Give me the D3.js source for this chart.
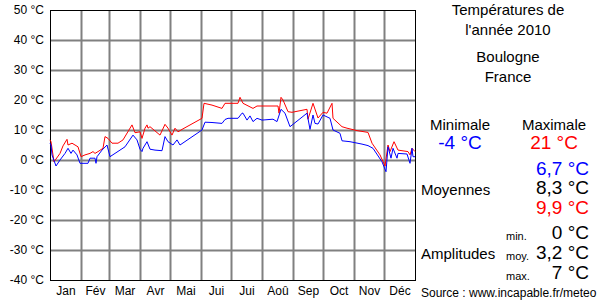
<!DOCTYPE html>
<head>
    <meta charset="utf-8">
    <title>Températures 2010 Boulogne</title>
    <script src="https://d3js.org/d3.v7.min.js"></script>
    <style>
        body { margin: 0; background: #fff; }
        svg { display: block; font-family: "Liberation Sans", Arial, sans-serif; }
    </style>
</head>

<body>
    <script>

// jours de l'annee (0 = 1er janvier) et temperatures
const joursMax = [0, 1, 4, 10, 13, 17, 18, 22, 25, 28, 31, 35, 40, 43, 45, 48, 53, 55, 58, 62, 68, 73, 82, 85, 90, 92, 95, 97, 98, 100,
    110, 115, 118, 122, 125, 128, 132, 152, 154, 162, 172, 175, 188, 190, 193, 203, 207, 228, 229, 231, 233, 238, 242,
    257, 258, 263, 268, 273, 277, 282, 283, 292, 297, 307, 318, 322, 330, 335, 338, 340, 344, 348, 358, 360, 362, 365]
const tMax = [6.7, 6.1, -0.6, 2.2, 4.7, 6.9, 5.0, 5.6, 5.0, 4.4, 1.1, 1.7, 2.2, 2.8, 2.2, 2.8, 3.9, 7.8, 7.2, 5.6, 5.6, 6.7, 11.7, 9.1, 9.4, 7.2, 10.6, 11.7, 10.6, 11.1,
    8.3, 11.9, 10.6, 8.3, 10.6, 9.4, 10.2, 13.9, 18.9, 18.3, 17.2, 18.9, 18.9, 20.9, 18.9, 17.2, 18.0, 18.0, 15.6, 20.9, 20.0, 16.1, 15.9,
    16.9, 13.6, 18.9, 14.0, 15.9, 15.6, 18.9, 13.9, 11.1, 10.6, 9.8, 9.2, 5.6, 1.7, -2.0, 5.0, 2.8, 6.1, 3.3, 2.8, 1.7, 3.9, 2.8]

const joursMin = [0, 1, 2, 6, 10, 15, 18, 21, 23, 27, 30, 38, 40, 45, 46, 47, 52, 57, 60, 65, 75, 83, 87, 90, 92, 93, 97, 100, 105, 112,
    115, 118, 123, 127, 130, 152, 155, 162, 172, 175, 178, 188, 192, 193, 197, 200, 203, 207, 212, 223, 227, 231, 235, 240,
    257, 260, 263, 265, 268, 273, 280, 283, 290, 292, 300, 312, 318, 323, 332, 336, 338, 341, 343, 347, 348, 357, 360, 362, 363, 365]
const tMin = [5.6, 5.0, 1.7, -2.0, 0.0, 2.2, 3.9, 2.2, 3.3, 1.7, -1.1, -1.1, 0.6, 0.6, -1.1, 1.1, 3.3, 5.0, 1.1, 2.2, 4.4, 8.3, 6.7, 3.6, 2.8, 3.9, 6.1, 3.6, 3.3, 3.1,
    7.8, 6.1, 5.0, 6.7, 5.0, 10.0, 12.6, 12.5, 12.2, 13.5, 13.9, 13.9, 15.6, 15.6, 13.3, 14.7, 12.8, 13.9, 13.3, 13.6, 12.8, 16.9, 15.6, 11.1,
    15.6, 10.2, 15.0, 12.2, 12.0, 15.0, 13.9, 10.0, 8.9, 6.4, 6.1, 5.3, 4.8, 3.9, -0.6, -3.9, 4.4, 0.6, 3.9, 0.6, 2.2, 2.0, -1.1, 3.9, 1.1, 1.1]

const debutsMois = [0, 31, 59, 90, 120, 151, 181, 212, 243, 273, 304, 334, 365]
const mois = ["Jan", "Fév", "Mar", "Avr", "Mai", "Jui", "Jui", "Aoû", "Sep", "Oct", "Nov", "Déc"]
const graduations = [-40, -30, -20, -10, 0, 10, 20, 30, 40, 50]

const titre = ["Températures de", "l'année 2010"]
const lieu = ["Boulogne", "France"]
const extremes = ["-4 °C", "21 °C"]
const moyennes = ["6,7 °C", "8,3 °C", "9,9 °C"]
const amplitudes = ["0 °C", "3,2 °C", "7 °C"]
const ampLabels = ["min.", "moy.", "max."]

const w = 600
const h = 300
const gauche = 50, droite = 415, haut = 10, bas = 280

const xScale = d3.scaleLinear().domain([0, 365]).range([gauche, droite])
const yScale = d3.scaleLinear().domain([-40, 50]).range([bas, haut])

const svg = d3.select("body")
    .append("svg")
    .attr("width", w)
    .attr("height", h)

svg.append("rect").attr("width", w).attr("height", h).attr("fill", "#fff")

// grille verticale (debut de chaque mois)
svg.append("g")
    .attr("class", "grid")
    .attr("transform", "translate(0," + bas + ")")
    .call(d3.axisBottom(xScale).tickValues(debutsMois.slice(1, -1)).tickSize(-(bas - haut)).tickFormat(""))

// grille horizontale
svg.append("g")
    .attr("class", "grid")
    .attr("transform", "translate(" + gauche + ",0)")
    .call(d3.axisLeft(yScale).tickValues(graduations.slice(1, -1)).tickSize(-(droite - gauche)).tickFormat(""))

svg.selectAll(".grid .domain").remove()
svg.selectAll(".grid line").attr("stroke", "#808080").attr("stroke-width", 2)

// cadre
svg.append("rect")
    .attr("x", gauche + 0.5).attr("y", haut + 0.5)
    .attr("width", droite - gauche).attr("height", bas - haut)
    .attr("fill", "none").attr("stroke", "#000")

// axe y
const yAxe = svg.append("g")
    .attr("transform", "translate(" + gauche + ",0)")
    .call(d3.axisLeft(yScale).tickValues(graduations).tickSize(0).tickPadding(6).tickFormat(d => d + " °C"))
yAxe.select(".domain").remove()
yAxe.selectAll("text").attr("font-size", 12).attr("font-family", "Liberation Sans, Arial, sans-serif").attr("fill", "#000")

// mois
const milieux = mois.map((m, i) => (debutsMois[i] + debutsMois[i + 1]) / 2)
const xAxe = svg.append("g")
    .attr("transform", "translate(0," + bas + ")")
    .call(d3.axisBottom(xScale).tickValues(milieux).tickSize(0).tickPadding(6).tickFormat((d, i) => mois[i]))
xAxe.select(".domain").remove()
xAxe.selectAll("text").attr("font-size", 12).attr("font-family", "Liberation Sans, Arial, sans-serif").attr("fill", "#000")

// courbes
const line = d3.line().x(d => xScale(d[0])).y(d => yScale(d[1]))

svg.append("path")
    .datum(joursMax.map((j, i) => [j, tMax[i]]))
    .attr("d", line)
    .attr("fill", "none").attr("stroke", "#ff0000").attr("stroke-width", 1)

svg.append("path")
    .datum(joursMin.map((j, i) => [j, tMin[i]]))
    .attr("d", line)
    .attr("fill", "none").attr("stroke", "#0000ff").attr("stroke-width", 1)

// textes a droite
function texte(x, y, s, size, color, anchor) {
    svg.append("text")
        .attr("x", x).attr("y", y)
        .attr("font-size", size)
        .attr("fill", color || "#000")
        .attr("text-anchor", anchor || "start")
        .text(s)
}

texte(508, 15, titre[0], 15, "#000", "middle")
texte(508, 35, titre[1], 15, "#000", "middle")
texte(508, 62, lieu[0], 15, "#000", "middle")
texte(508, 82, lieu[1], 15, "#000", "middle")

texte(460, 130, "Minimale", 15, "#000", "middle")
texte(554, 130, "Maximale", 15, "#000", "middle")
texte(460, 149, extremes[0], 19, "#0000ff", "middle")
texte(554, 149, extremes[1], 19, "#ff0000", "middle")

texte(421, 195, "Moyennes", 15)
texte(589, 175, moyennes[0], 19, "#0000ff", "end")
texte(589, 194, moyennes[1], 19, "#000", "end")
texte(589, 214, moyennes[2], 19, "#ff0000", "end")

texte(421, 259, "Amplitudes", 15)
ampLabels.forEach((s, i) => texte(506, 240 + i * 20, s, 11))
amplitudes.forEach((s, i) => texte(589, 239 + i * 20, s, 19, "#000", "end"))

texte(421, 297, "Source : www.incapable.fr/meteo", 12)

    </script>
  </body>
